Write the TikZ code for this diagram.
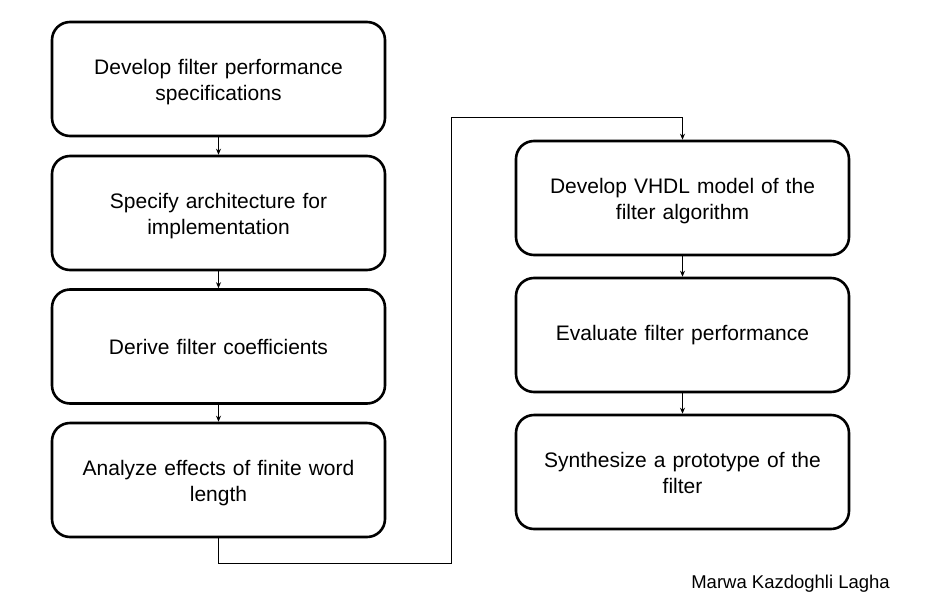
\documentclass[tikz,border=0pt]{standalone}
\usepackage{fontspec}
\setmainfont{Liberation Sans}
\usetikzlibrary{arrows.meta}
\begin{document}
\begin{tikzpicture}[x=1pt,y=-1pt,
  stepbox/.style={draw, line width=2.6pt, rounded corners=18pt, minimum width=333pt, minimum height=114pt, align=center, text width=300pt, font=\fontsize{21}{26}\selectfont, inner sep=0pt},
  twoline/.style={text depth=24pt},
  conn/.style={draw, line width=0.8pt, -{Stealth[length=6pt,width=5pt]}}]
\useasboundingbox (0,0) rectangle (935,603);
\node[stepbox,twoline] (a) at (218.5,79) {Develop filter performance\\specifications};
\node[stepbox,twoline] (b) at (218.5,213) {Specify architecture for\\implementation};
\node[stepbox] (c) at (218.5,346.5) {Derive filter coefficients};
\node[stepbox,twoline] (d) at (218.5,480) {Analyze effects of finite word\\length};
\node[stepbox,twoline] (e) at (682.5,198) {Develop VHDL model of the\\filter algorithm};
\node[stepbox] (f) at (682.5,335) {Evaluate filter performance};
\node[stepbox,twoline] (g) at (682.5,472) {Synthesize a prototype of the\\filter};
\node[anchor=base east, font=\fontsize{18.5}{22}\selectfont, inner sep=0pt] (auth) at (890,588) {Marwa Kazdoghli Lagha};
\draw[conn] (a) -- (b);
\draw[conn] (b) -- (c);
\draw[conn] (c) -- (d);
\draw[conn] (e) -- (f);
\draw[conn] (f) -- (g);
\draw[conn] (d.south) -- ++(0,25) -| (451,117) -| (e.north);
\end{tikzpicture}
\end{document}
